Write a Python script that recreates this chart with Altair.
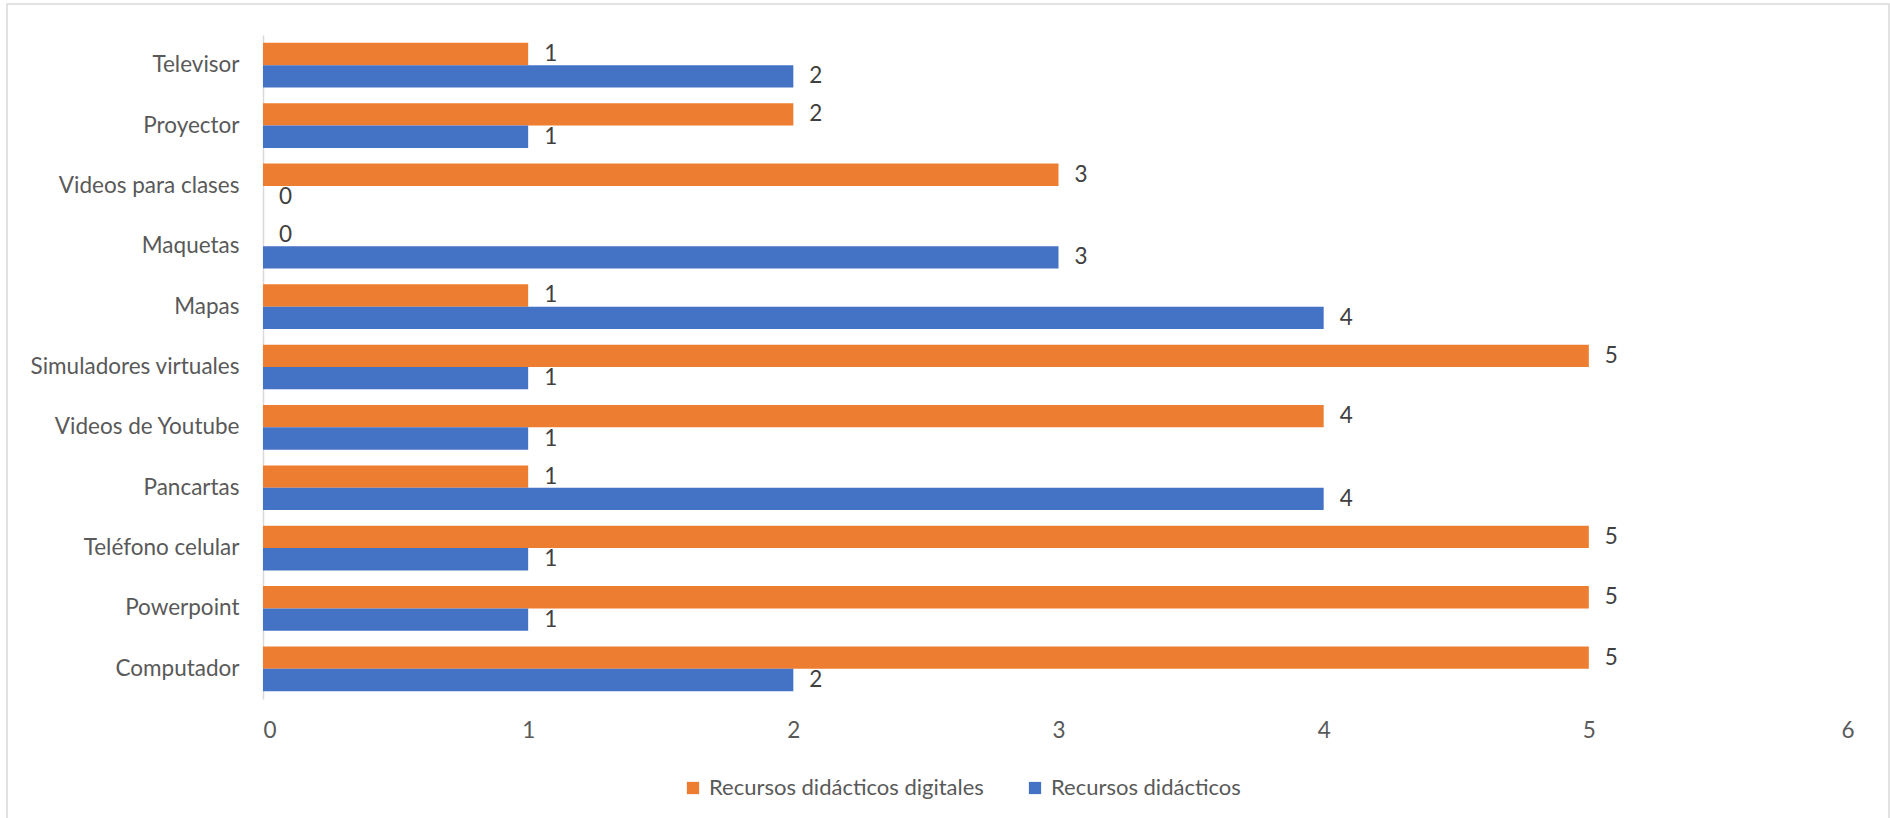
import altair as alt
import pandas as pd

categories = ["Televisor\u00a0", "Proyector\u00a0", "Videos para clases", "Maquetas", "Mapas",
              "Simuladores virtuales\u00a0", "Videos de Youtube", "Pancartas",
              "Teléfono celular", "Powerpoint", "Computador"]
digitales = [1, 2, 3, 0, 1, 5, 4, 1, 5, 5, 5]
didacticos = [2, 1, 0, 3, 4, 1, 1, 4, 1, 1, 2]
series = ["Recursos didácticos digitales", "Recursos didácticos"]
colors = ["#ED7D31", "#4472C4"]
x_ticks = [0, 1, 2, 3, 4, 5, 6]

rows = []
for c, a, b in zip(categories, digitales, didacticos):
    rows.append({"cat": c, "serie": series[0], "val": a})
    rows.append({"cat": c, "serie": series[1], "val": b})
df = pd.DataFrame(rows)

FONT = "Lato"
GREY = "#595959"
FS = 22.5

y_enc = alt.Y("cat:N", sort=categories,
              scale=alt.Scale(paddingInner=0.26, paddingOuter=0.13),
              axis=alt.Axis(title=None, ticks=False, domainColor="#d9d9d9", domainWidth=1.5,
                            labelPadding=24, labelFontSize=FS, labelColor=GREY,
                            labelFont=FONT, labelLimit=400))
x_enc = alt.X("val:Q", scale=alt.Scale(domain=[0, 6], nice=False),
              axis=alt.Axis(title=None, values=x_ticks, domain=False, ticks=False,
                            grid=False, labelPadding=20, labelFontSize=FS,
                            labelColor=GREY, labelFont=FONT, format="d"))
yoff = alt.YOffset("serie:N", sort=series, scale=alt.Scale(paddingInner=0, paddingOuter=0))
color = alt.Color("serie:N", sort=series,
                  scale=alt.Scale(domain=series, range=colors),
                  legend=alt.Legend(title=None, orient="none", direction="horizontal",
                                    legendX=419, legendY=742, padding=0,
                                    symbolType="square", symbolSize=150,
                                    symbolStrokeWidth=0,
                                    labelFontSize=22, labelColor=GREY, labelFont=FONT,
                                    columnPadding=40, labelOffset=5, labelLimit=500))

bars = alt.Chart(df).mark_bar(cornerRadius=0).encode(
    y=y_enc, x=x_enc, yOffset=yoff, color=color)

labels = alt.Chart(df).mark_text(align="left", baseline="middle", dx=16,
                                 fontSize=FS, font=FONT, color="#404040").encode(
    y=alt.Y("cat:N", sort=categories), x="val:Q", yOffset=alt.YOffset("serie:N", sort=series),
    text=alt.Text("val:Q", format="d"))

frame = alt.Chart(pd.DataFrame({"k": [0]})).mark_rect(
    fillOpacity=0, stroke="#d9d9d9", strokeWidth=1.5).encode(
    x=alt.value(-256), x2=alt.value(1626), y=alt.value(-31), y2=alt.value(830))

chart = alt.layer(frame, bars, labels).properties(
    width=1591, height=664,
    background="white",
    autosize=alt.AutoSizeParams(type="none"),
    padding={"left": 263, "top": 35, "right": 36, "bottom": 119},
).configure_view(stroke=None)

chart.save("out.html", embed_options={"renderer": "svg", "actions": False})
